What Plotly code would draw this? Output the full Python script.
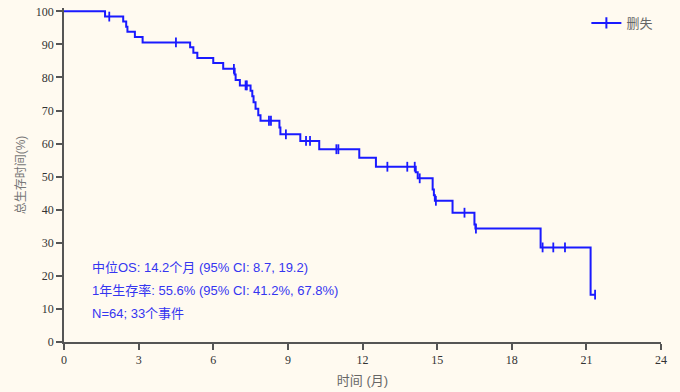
import plotly.graph_objects as go

# Kaplan-Meier step data: time (months) and survival (%) after each event
event_times = [0, 1.65, 2.38, 2.50, 2.55, 2.85, 3.16, 5.07, 5.20, 5.36, 6.00, 6.40,
               6.86, 6.90, 7.07, 7.50, 7.57, 7.62, 7.70, 7.81, 7.90, 8.66, 8.70,
               9.50, 10.26, 11.87, 12.54, 14.14, 14.22, 14.82, 14.87, 14.91,
               15.62, 16.50, 16.54, 19.16, 21.17]
survival = [100, 98.4, 96.9, 95.3, 93.8, 92.2, 90.6, 89.1, 87.5, 85.9, 84.4, 82.6,
            80.9, 79.2, 77.6, 76.0, 74.3, 72.5, 70.5, 68.6, 66.9, 64.9, 62.8,
            60.8, 58.3, 55.7, 53.0, 51.3, 49.5, 46.1, 44.4, 42.7,
            39.1, 35.5, 34.3, 28.6, 14.3]
last_followup = 21.35

# Censored observations (months)
censor_times = [1.82, 4.50, 6.83, 7.30, 7.35, 8.24, 8.32, 8.92, 9.73, 9.89,
                10.95, 11.03, 13.00, 13.80, 14.10, 14.30, 14.95, 16.10, 16.56,
                19.24, 19.67, 20.14, 21.35]

x_ticks = [0, 3, 6, 9, 12, 15, 18, 21, 24]
y_ticks = [0, 10, 20, 30, 40, 50, 60, 70, 80, 90, 100]

summary_lines = [
    "中位OS: 14.2个月 (95% CI: 8.7, 19.2)",
    "1年生存率: 55.6% (95% CI: 41.2%, 67.8%)",
    "N=64; 33个事件",
]


def surv_at(t):
    s = survival[0]
    for et, sv in zip(event_times, survival):
        if et <= t:
            s = sv
    return s


BLUE = "#1a1aff"
GREY = "#555555"
SERIF = "Liberation Serif, Times New Roman, serif"
SANS = "Liberation Sans, Noto Sans CJK SC, Arial, sans-serif"

fig = go.Figure()

fig.add_trace(go.Scatter(
    x=event_times + [last_followup],
    y=survival + [survival[-1]],
    mode="lines", line=dict(color=BLUE, width=2, shape="hv"),
    showlegend=False, hoverinfo="skip", cliponaxis=False,
))

fig.add_trace(go.Scatter(
    x=censor_times, y=[surv_at(t) for t in censor_times],
    mode="markers",
    marker=dict(symbol="line-ns", size=7, line=dict(color=BLUE, width=1.8)),
    showlegend=False, cliponaxis=False,
))

# Legend entry for censored marks
fig.add_trace(go.Scatter(
    x=[None], y=[None], mode="lines+markers", name="删失",
    line=dict(color=BLUE, width=2),
    marker=dict(symbol="line-ns", size=8, line=dict(color=BLUE, width=2)),
))

for i, txt in enumerate(summary_lines):
    fig.add_annotation(
        x=1.05, y=22.5 - i * 7.0, xref="x", yref="y", text=txt,
        showarrow=False, xanchor="left", yanchor="middle",
        font=dict(family=SANS, size=13, color="#3535f0"),
    )

fig.update_layout(
    width=680, height=392,
    margin=dict(l=64, r=19, t=8, b=50, autoexpand=False),
    paper_bgcolor="#fffaf0", plot_bgcolor="#fffaf0",
    legend=dict(x=0.875, y=1.0, xanchor="left", yanchor="top",
                bgcolor="rgba(0,0,0,0)",
                font=dict(family=SANS, size=13, color="#666666")),
    xaxis=dict(
        range=[0, 24], tickvals=x_ticks, showgrid=False, zeroline=False,
        automargin=False,
        showline=True, linecolor=GREY, linewidth=1.5,
        ticks="outside", ticklen=6, tickcolor=GREY, tickwidth=1.5,
        tickfont=dict(family=SERIF, size=12, color="#333333"),
        title=dict(text="时间 (月)", standoff=10,
                   font=dict(family=SANS, size=13, color="#666666")),
    ),
    yaxis=dict(
        range=[0, 101], tickvals=y_ticks, showgrid=False, zeroline=False,
        automargin=False,
        showline=True, linecolor=GREY, linewidth=1.5,
        ticks="outside", ticklen=6, tickcolor=GREY, tickwidth=1.5,
        tickfont=dict(family=SERIF, size=12, color="#333333"),
        title=dict(text="总生存时间(%)", standoff=8,
                   font=dict(family=SANS, size=12, color="#777777")),
    ),
)

fig.write_html("out.html")
